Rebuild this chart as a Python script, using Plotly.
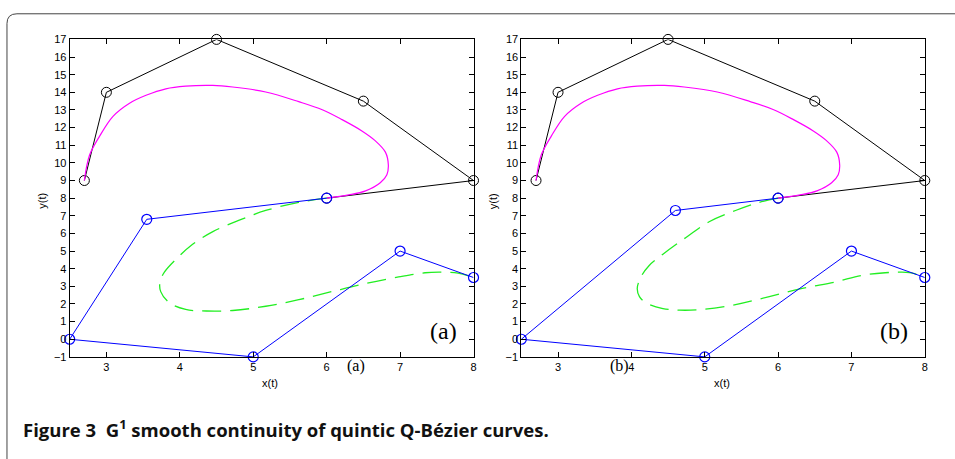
import plotly.graph_objects as go

W, H = 955, 459

# Control polygons
black_x = [2.7, 3.0, 4.5, 6.5, 8.0, 6.0]
black_y = [9.0, 14.0, 17.0, 13.5, 9.0, 8.0]

blue_a_x = [6.0, 3.55, 2.5, 5.0, 7.0, 8.0]
blue_a_y = [8.0, 6.8, 0.0, -1.0, 5.0, 3.5]

blue_b_x = [6.0, 4.6, 2.5, 5.0, 7.0, 8.0]
blue_b_y = [8.0, 7.3, 0.0, -1.0, 5.0, 3.5]

# Magenta curve (same in both panels)
mag_x = [2.70, 2.77, 2.91, 3.09, 3.31, 3.54, 3.81, 4.08, 4.45, 4.72, 5.17, 5.62,
         5.94, 6.21, 6.48, 6.66, 6.80, 6.84, 6.82, 6.73, 6.53, 6.30, 6.0]
mag_y = [9.0, 10.43, 11.53, 12.64, 13.37, 13.83, 14.20, 14.35, 14.39, 14.30, 14.02, 13.47,
         13.01, 12.45, 11.81, 11.26, 10.61, 9.88, 9.33, 8.87, 8.41, 8.18, 8.0]

# Green dashed curve, panel (a)
green_a_x = [6.0, 5.62, 5.17, 4.81, 4.45, 4.17, 3.95, 3.79, 3.73, 3.74, 3.86, 4.08, 4.36,
             4.72, 5.17, 5.62, 6.07, 6.53, 6.98, 7.34, 7.57, 7.79, 8.0]
green_a_y = [8.0, 7.76, 7.30, 6.75, 6.10, 5.37, 4.54, 3.80, 3.25, 2.70, 2.06, 1.69, 1.60,
             1.63, 1.87, 2.24, 2.70, 3.16, 3.53, 3.77, 3.80, 3.75, 3.5]

# Green dashed curve, panel (b)
green_b_x = [6.0, 5.74, 5.42, 5.06, 4.70, 4.43, 4.24, 4.13, 4.08, 4.11, 4.20, 4.43, 4.66,
             4.97, 5.42, 5.88, 6.33, 6.78, 7.14, 7.46, 7.69, 7.87, 8.0]
green_b_y = [8.0, 7.76, 7.30, 6.66, 5.64, 4.82, 4.17, 3.53, 2.88, 2.42, 2.06, 1.74, 1.65,
             1.69, 1.96, 2.42, 2.88, 3.25, 3.62, 3.77, 3.80, 3.71, 3.5]

x_ticks = [3, 4, 5, 6, 7, 8]
y_ticks = list(range(-1, 18))

fig = go.Figure()

def add_panel(xa, ya, blue_x, blue_y, gx, gy):
    fig.add_trace(go.Scatter(x=black_x, y=black_y, mode="lines+markers", xaxis=xa, yaxis=ya,
                             line=dict(color="black", width=1),
                             marker=dict(symbol="circle-open", size=10, color="black", line=dict(width=1)),
                             cliponaxis=False, showlegend=False))
    fig.add_trace(go.Scatter(x=mag_x, y=mag_y, mode="lines", xaxis=xa, yaxis=ya,
                             line=dict(color="#ff00ff", width=1.2, shape="spline"), showlegend=False))
    fig.add_trace(go.Scatter(x=gx, y=gy, mode="lines", xaxis=xa, yaxis=ya,
                             line=dict(color="#22ee22", width=1.3, dash="19px,9px", shape="spline"),
                             showlegend=False))
    fig.add_trace(go.Scatter(x=blue_x, y=blue_y, mode="lines+markers", xaxis=xa, yaxis=ya,
                             line=dict(color="#0000ff", width=1),
                             marker=dict(symbol="circle-open", size=10, color="#0000ff", line=dict(width=1.2)),
                             cliponaxis=False, showlegend=False))

add_panel("x", "y", blue_a_x, blue_a_y, green_a_x, green_a_y)
add_panel("x2", "y2", blue_b_x, blue_b_y, green_b_x, green_b_y)

ydom = [1 - 360.3 / H, 1 - 34.3 / H]
axis_common = dict(showgrid=False, zeroline=False, showline=True, linecolor="black", linewidth=1,
                   mirror="ticks", ticks="inside", ticklen=5, tickcolor="black",
                   tickfont=dict(family="Liberation Sans, Arial", size=11, color="black"))

fig.update_layout(
    width=W, height=H, margin=dict(l=0, r=0, t=0, b=0),
    paper_bgcolor="white", plot_bgcolor="white",
    xaxis=dict(domain=[69.9 / W, 475 / W], range=[2.5, 8], tickvals=x_ticks, anchor="y", **axis_common),
    yaxis=dict(domain=ydom, range=[-1, 17], tickvals=y_ticks, anchor="x", **axis_common),
    xaxis2=dict(domain=[523 / W, 927.7 / W], range=[2.5, 8], tickvals=x_ticks, anchor="y2", **axis_common),
    yaxis2=dict(domain=ydom, range=[-1, 17], tickvals=y_ticks, anchor="x2", **axis_common),
)

def px(xp):
    return xp / W

def py(yp):
    return 1 - yp / H

ann = []
lab_font = dict(family="Liberation Sans, Arial", size=11, color="black")
for xc in (271, 724):
    ann.append(dict(text="x(t)", x=px(xc), y=py(387), xref="paper", yref="paper", showarrow=False,
                    font=lab_font, xanchor="center", yanchor="middle"))
for xc in (42, 494):
    ann.append(dict(text="y(t)", x=px(xc), y=py(200), xref="paper", yref="paper", showarrow=False,
                    font=lab_font, xanchor="center", yanchor="middle", textangle=-90))
serif = "Liberation Serif, Times New Roman"
ann.append(dict(text="(a)", x=px(445), y=py(334), xref="paper", yref="paper", showarrow=False,
                font=dict(family=serif, size=24, color="black"), xanchor="center", yanchor="middle"))
ann.append(dict(text="(b)", x=px(897), y=py(334), xref="paper", yref="paper", showarrow=False,
                font=dict(family=serif, size=24, color="black"), xanchor="center", yanchor="middle"))
ann.append(dict(text="(a)", x=px(357), y=py(370), xref="paper", yref="paper", showarrow=False,
                font=dict(family=serif, size=16, color="black"), xanchor="center", yanchor="middle"))
ann.append(dict(text="(b)", x=px(621), y=py(370), xref="paper", yref="paper", showarrow=False,
                font=dict(family=serif, size=16, color="black"), xanchor="center", yanchor="middle"))
ann.append(dict(text="<b>Figure 3  G<sup>1</sup> smooth continuity of quintic Q-Bézier curves.</b>",
                x=px(21), y=py(434), xref="paper", yref="paper", showarrow=False,
                font=dict(family="Open Sans", size=18.5, color="#111111"),
                xanchor="left", yanchor="middle"))
fig.update_layout(annotations=ann)

# rounded frame
x0, yt = px(7), py(8)
rx, ry = 10 / W, 10 / H
path = f"M {x0} -0.05 L {x0} {yt - ry} Q {x0} {yt} {x0 + rx} {yt} L 1.05 {yt}"
fig.add_shape(type="path", path=path, xref="paper", yref="paper", line=dict(color="#444444", width=1))

fig.write_html("out.html")
